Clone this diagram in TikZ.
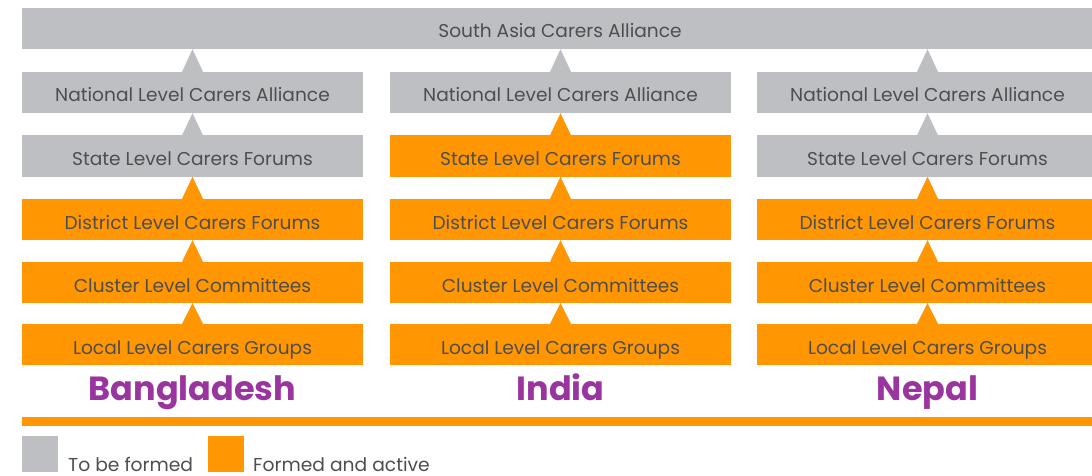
\documentclass[tikz,border=0pt]{standalone}
\usepackage{fontspec}
\setmainfont{Poppins}
\usetikzlibrary{calc}
\definecolor{cgray}{HTML}{BEBFC3}
\definecolor{corange}{HTML}{FF9602}
\definecolor{cpurple}{HTML}{9A35A0}
\definecolor{ctext}{HTML}{4E4E4E}
\tikzset{
  lvl/.style={minimum width=341pt, minimum height=41pt, inner sep=0pt, text height=19pt, text depth=0pt, text=ctext, font=\fontsize{18.6}{20}\selectfont},
  g/.style={lvl, fill=cgray},
  o/.style={lvl, fill=corange},
  country/.style={text=cpurple, font=\fontsize{33.5}{36}\selectfont\bfseries, anchor=base, inner sep=0pt},
  legtext/.style={text=ctext, font=\fontsize{18.7}{20}\selectfont, anchor=base west, inner sep=0pt},
}
\newcommand{\uptri}[3]{\fill[#3] ($(#1.north)+(-10.5pt,0)$) -- (#1.north |- #2.south) -- ($(#1.north)+(10.5pt,0)$) -- cycle;}
\begin{document}
\begin{tikzpicture}[x=1pt,y=-1pt]
\useasboundingbox (0,0) rectangle (1092,476);
\node[g, minimum width=1076pt] (top) at (560,28.5) {South Asia Carers Alliance};
% Bangladesh
\node[g] (bn) at (192.5,92.5) {National Level Carers Alliance};
\node[g] (bs) at (192.5,156) {State Level Carers Forums};
\node[o] (bd) at (192.5,219.5) {District Level Carers Forums};
\node[o] (bc) at (192.5,282.5) {Cluster Level Committees};
\node[o] (bl) at (192.5,344.5) {Local Level Carers Groups};
% India
\node[g] (in) at (560.5,92.5) {National Level Carers Alliance};
\node[o] (is) at (560.5,156) {State Level Carers Forums};
\node[o] (id) at (560.5,219.5) {District Level Carers Forums};
\node[o] (ic) at (560.5,282.5) {Cluster Level Committees};
\node[o] (il) at (560.5,344.5) {Local Level Carers Groups};
% Nepal
\node[g] (nn) at (927.5,92.5) {National Level Carers Alliance};
\node[g] (ns) at (927.5,156) {State Level Carers Forums};
\node[o] (nd) at (927.5,219.5) {District Level Carers Forums};
\node[o] (nc) at (927.5,282.5) {Cluster Level Committees};
\node[o] (nl) at (927.5,344.5) {Local Level Carers Groups};
% triangles
\foreach \c in {b,i,n}{
  \uptri{\c n}{top}{cgray}
}
\uptri{bs}{bn}{cgray}
\uptri{bd}{bs}{corange}
\uptri{bc}{bd}{corange}
\uptri{bl}{bc}{corange}
\uptri{is}{in}{corange}
\uptri{id}{is}{corange}
\uptri{ic}{id}{corange}
\uptri{il}{ic}{corange}
\uptri{ns}{nn}{cgray}
\uptri{nd}{ns}{corange}
\uptri{nc}{nd}{corange}
\uptri{nl}{nc}{corange}
% country labels
\node[country] (lb) at (192.5,400) {Bangladesh};
\node[country] (li) at (560.5,400) {India};
\node[country] (ln) at (927.5,400) {Nepal};
% orange line
\fill[corange] (22,417) rectangle (1092,426);
% legend
\node[fill=cgray, minimum size=36pt, inner sep=0pt, anchor=north west] (lg) at (22,436) {};
\node[legtext] (lgt) at (68,471) {To be formed};
\node[fill=corange, minimum size=36pt, inner sep=0pt, anchor=north west] (lo) at (208,436) {};
\node[legtext] (lot) at (253,471) {Formed and active};
\end{tikzpicture}
\end{document}
